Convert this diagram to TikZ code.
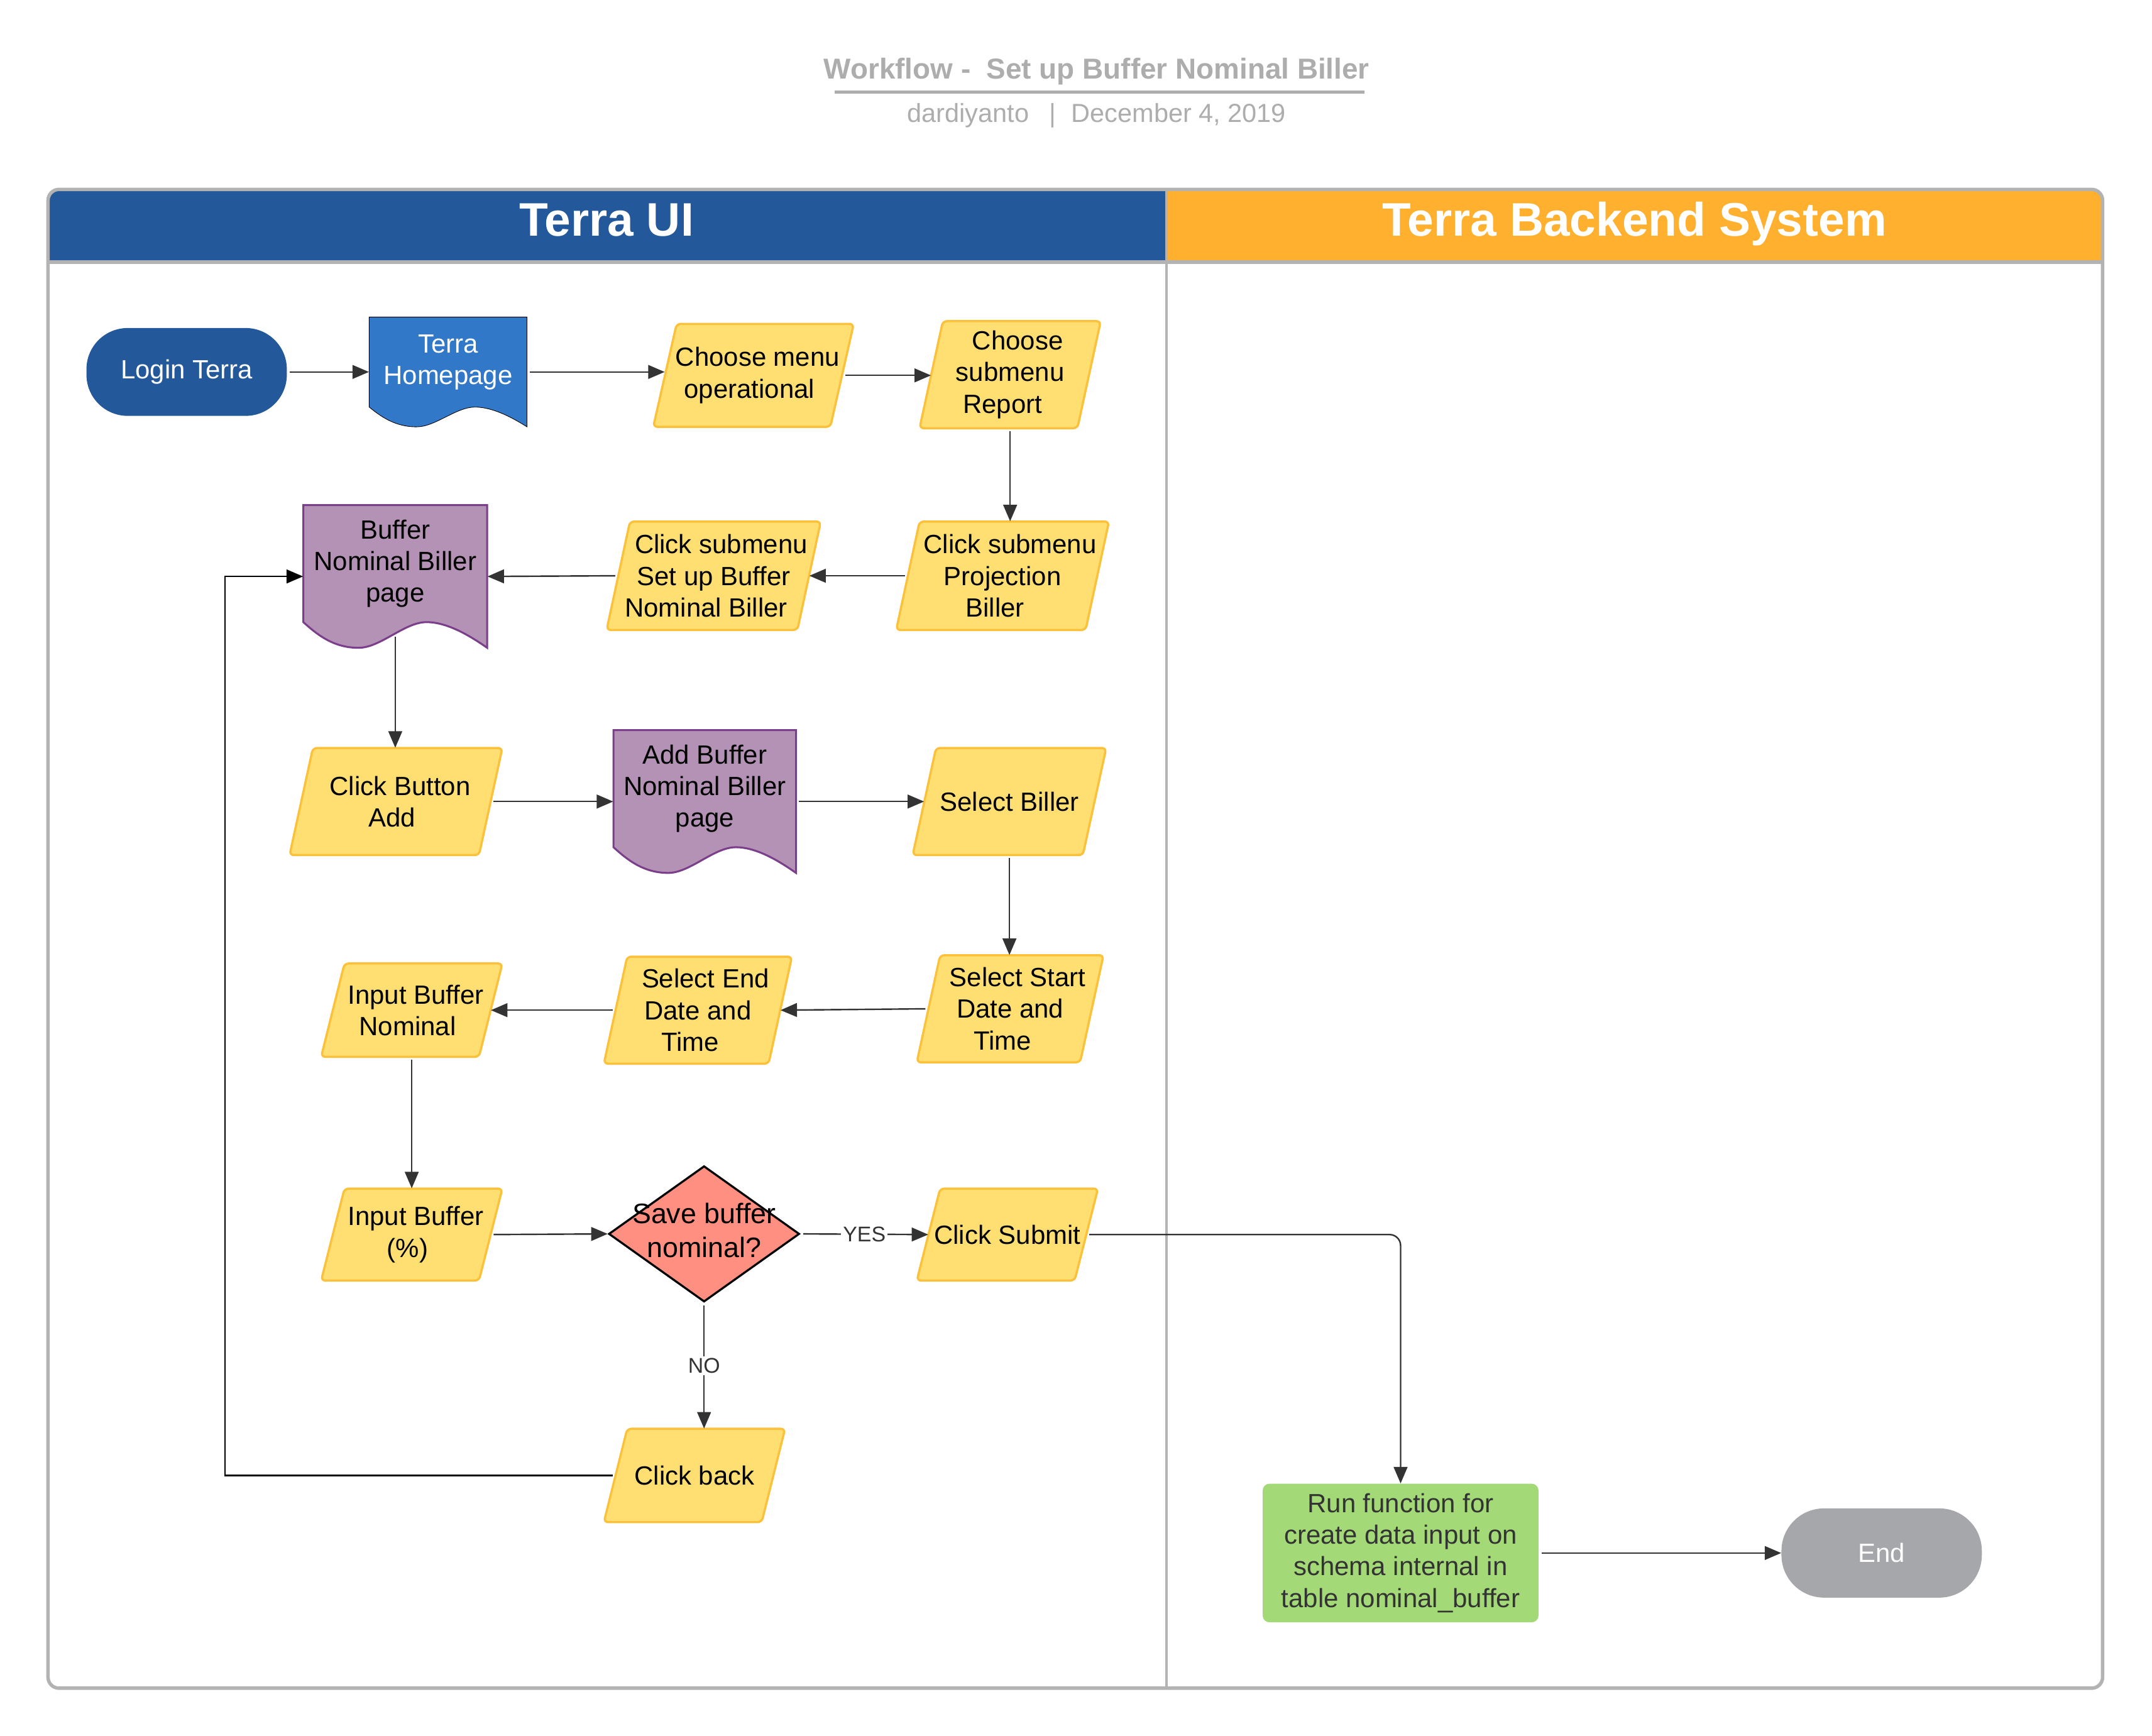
\documentclass[tikz,border=0pt]{standalone}
\usepackage{fontspec}
\setmainfont{Liberation Sans}
\usetikzlibrary{arrows.meta,shapes.geometric,calc}
\definecolor{hblue}{HTML}{23589A}
\definecolor{horange}{HTML}{FFB02E}
\definecolor{framegray}{HTML}{B3B3B3}
\definecolor{titlegray}{HTML}{ADADAD}
\definecolor{termblue}{HTML}{23589A}
\definecolor{pageblue}{HTML}{3278C8}
\definecolor{parafill}{HTML}{FFDF71}
\definecolor{parastroke}{HTML}{FCC13A}
\definecolor{docfill}{HTML}{B392B5}
\definecolor{docstroke}{HTML}{7A3E8A}
\definecolor{decfill}{HTML}{FF8F80}
\definecolor{runfill}{HTML}{A3D977}
\definecolor{endgray}{HTML}{A6A7AA}
\definecolor{linegray}{HTML}{333333}
\definecolor{runtext}{HTML}{333333}

\newcommand\slantw{17}
\newcommand\kk[1]{\kern#1pt\relax}
\newcommand\paranode[6]{%
  \pgfmathsetmacro\pw{#4-\slantw}%
  \filldraw[parashape] ({#2-#4/2+\slantw},{#3-#5/2}) -- ({#2+#4/2},{#3-#5/2}) -- ({#2+#4/2-\slantw},{#3+#5/2}) -- ({#2-#4/2},{#3+#5/2}) -- cycle;
  \node[paratext, minimum width=\pw pt, minimum height=#5pt] (#1) at (#2,#3) {#6};}
\newcommand\docnode[8]{%
  \pgfmathsetmacro\dw{#4-#2}\pgfmathsetmacro\dh{#5-#3}\pgfmathsetmacro\da{0.18*\dh}%
  \filldraw[#6] (#2,#3) -- (#4,#3) -- (#4,#5) .. controls ({#2+0.9*\dw},{#5-0.5*\da}) and ({#2+0.78*\dw},{#5-\da}) .. ({#2+0.67*\dw},{#5-\da}) .. controls ({#2+0.55*\dw},{#5-\da}) and ({#2+0.42*\dw},#5) .. ({#2+0.3*\dw},#5) .. controls ({#2+0.16*\dw},#5) and ({#2+0.07*\dw},{#5-0.55*\da}) .. (#2,{#5-\da}) -- cycle;
  \node[inner sep=0pt, minimum width=\dw pt, minimum height=\dh pt] (#1) at ({(#2+#4)/2},{(#3+#5)/2}) {};
  \node[#7] (#1t) at ({(#2+#4)/2},{#3+(\dh-\da)/2}) {#8};}

\begin{document}
\begin{tikzpicture}[x=1pt,y=-1pt,
  parashape/.style={fill=parafill, draw=parastroke, line width=1.6pt, rounded corners=3pt},
  paratext/.style={inner sep=0pt, align=center, font=\fontsize{19.2}{23}\selectfont},
  doctext/.style={inner sep=0pt, align=center, font=\fontsize{19.2}{23}\selectfont},
  conn/.style={draw=linegray, line width=1.1pt, -{Triangle[length=12pt,width=10pt]}, shorten <=2pt},
  lbl/.style={fill=white, inner sep=1.5pt, font=\fontsize{15.5}{18}\selectfont, text=linegray},
  lanetitle/.style={text=white, anchor=base, font=\bfseries\fontsize{34.3}{38}\selectfont},
]
\useasboundingbox (0,0) rectangle (1568,1264.8);
\fill[white] (0,0) rectangle (1568,1264.8);

% title
\node[font=\bfseries\fontsize{21}{24}\selectfont, text=titlegray] (title) at (799,52) {Workflow -~ Set up Buffer Nominal Biller};
\draw[titlegray, line width=2.5pt] (608,67) -- (994,67);
\node[font=\fontsize{19}{22}\selectfont, text=titlegray] (sub) at (799,84) {dardiyanto\hspace{15pt}|\hspace{11pt}December 4, 2019};

% lanes
\begin{scope}
\clip[rounded corners=8pt] (35,138) rectangle (1532,1230);
\fill[hblue] (35,138) rectangle (850,190);
\fill[horange] (850,138) rectangle (1532,190);
\end{scope}
\draw[framegray, line width=2.5pt] (35,191) -- (1532,191);
\draw[framegray, line width=2pt] (850,138) -- (850,1230);
\draw[framegray, line width=2.5pt, rounded corners=8pt] (35,138) rectangle (1532,1230);
\node[lanetitle] (laneA) at (442,172) {Terra UI};
\node[lanetitle] (laneB) at (1191,172) {Terra Backend System};

% nodes
\node[fill=termblue, rounded corners=30pt, minimum width=146pt, minimum height=64pt, inner sep=0pt, text=white, font=\fontsize{19.2}{23}\selectfont] (login) at (136,271) {Login Terra};
\docnode{home}{269}{231}{384}{311}{fill=pageblue}{doctext, text=white}{Terra\\Homepage}
\paranode{menu}{549}{273.5}{146}{75}{\kk{6}Choose menu\\operational\kk{6}}
\paranode{report}{736}{273}{132}{78}{\kk{11}Choose\\submenu\\Report\kk{11}}
\paranode{proj}{730.5}{419.5}{155}{79}{\kk{11}Click submenu\\Projection\\Biller\kk{11}}
\paranode{setup}{520}{419.5}{156}{79}{\kk{11}Click submenu\\Set up Buffer\\Nominal Biller\kk{11}}
\docnode{bp}{221}{368}{355}{472}{fill=docfill, draw=docstroke, line width=1.4pt}{doctext}{Buffer\\Nominal Biller\\page}
\paranode{add}{288.5}{584}{155}{78}{\kk{6}Click Button\\Add\kk{6}}
\docnode{ap}{447}{532}{580}{636}{fill=docfill, draw=docstroke, line width=1.4pt}{doctext}{Add Buffer\\Nominal Biller\\page}
\paranode{biller}{735.5}{584}{141}{78}{Select Biller}
\paranode{start}{736}{735}{136}{78}{\kk{11}Select Start\\Date and\\Time\kk{11}}
\paranode{endt}{508.5}{736}{137}{78}{\kk{11}Select End\\Date and\\Time\kk{11}}
\paranode{nom}{300}{736}{132}{68}{\kk{6}Input Buffer\\Nominal\kk{6}}
\paranode{pct}{300}{899.5}{132}{67}{\kk{6}Input Buffer\\(\%)\kk{6}}
\node[diamond, draw=black, line width=1.5pt, fill=decfill, minimum width=139pt, minimum height=99pt, inner sep=0pt] (dec) at (513,899) {};
\node[align=center, inner sep=0pt, font=\fontsize{20.5}{25}\selectfont] (dect) at (513,896.5) {Save buffer\\nominal?};
\paranode{submit}{734}{899.5}{132}{67}{Click Submit}
\paranode{back}{506}{1075}{132}{68}{Click back}
\node[fill=runfill, rounded corners=5pt, minimum width=201pt, minimum height=101pt, inner sep=0pt, align=center, text=runtext, font=\fontsize{19.2}{23}\selectfont] (run) at (1020.5,1131.5) {Run function for\\create data input on\\schema internal in\\table nominal\_buffer};
\node[fill=endgray, rounded corners=31pt, minimum width=146pt, minimum height=65pt, inner sep=0pt, text=white, font=\fontsize{19.2}{23}\selectfont] (fin) at (1371,1131.5) {End};
\coordinate (loopc) at (164,420);
\coordinate (bpout) at (288,464);

% connectors
\draw[conn] (login.east) -- (home.west);
\draw[conn] (home.east) -- (home.east -| menu.west);
\draw[conn] (menu.east) -- (menu.east -| report.west);
\draw[conn] (report.south) -- (report.south |- proj.north);
\draw[conn] (proj.west) -- (setup.east);
\draw[conn] (setup.west) -- (bp.east);
\draw[conn, shorten <=0pt] (bpout) -- (bpout |- add.north);
\draw[conn] (add.east) -- (ap.west);
\draw[conn] (ap.east) -- (biller.west);
\draw[conn] (biller.south) -- (biller.south |- start.north);
\draw[conn] (start.west) -- (endt.east);
\draw[conn] (endt.west) -- (nom.east);
\draw[conn] (nom.south) -- (pct.north);
\draw[conn] (pct.east) -- (dec.west);
\draw[conn] (dec.east) -- node[lbl] (yes) {YES} (submit.west);
\draw[conn] (dec.south) -- node[lbl] (no) {NO} (dec.south |- back.north);
\draw[conn, draw=black] (back.west) -| (loopc) -- (bp.west);
\draw[conn, rounded corners=8pt] (submit.east) -| (run.north);
\draw[conn] (run.east) -- (fin.west);
\end{tikzpicture}
\end{document}
